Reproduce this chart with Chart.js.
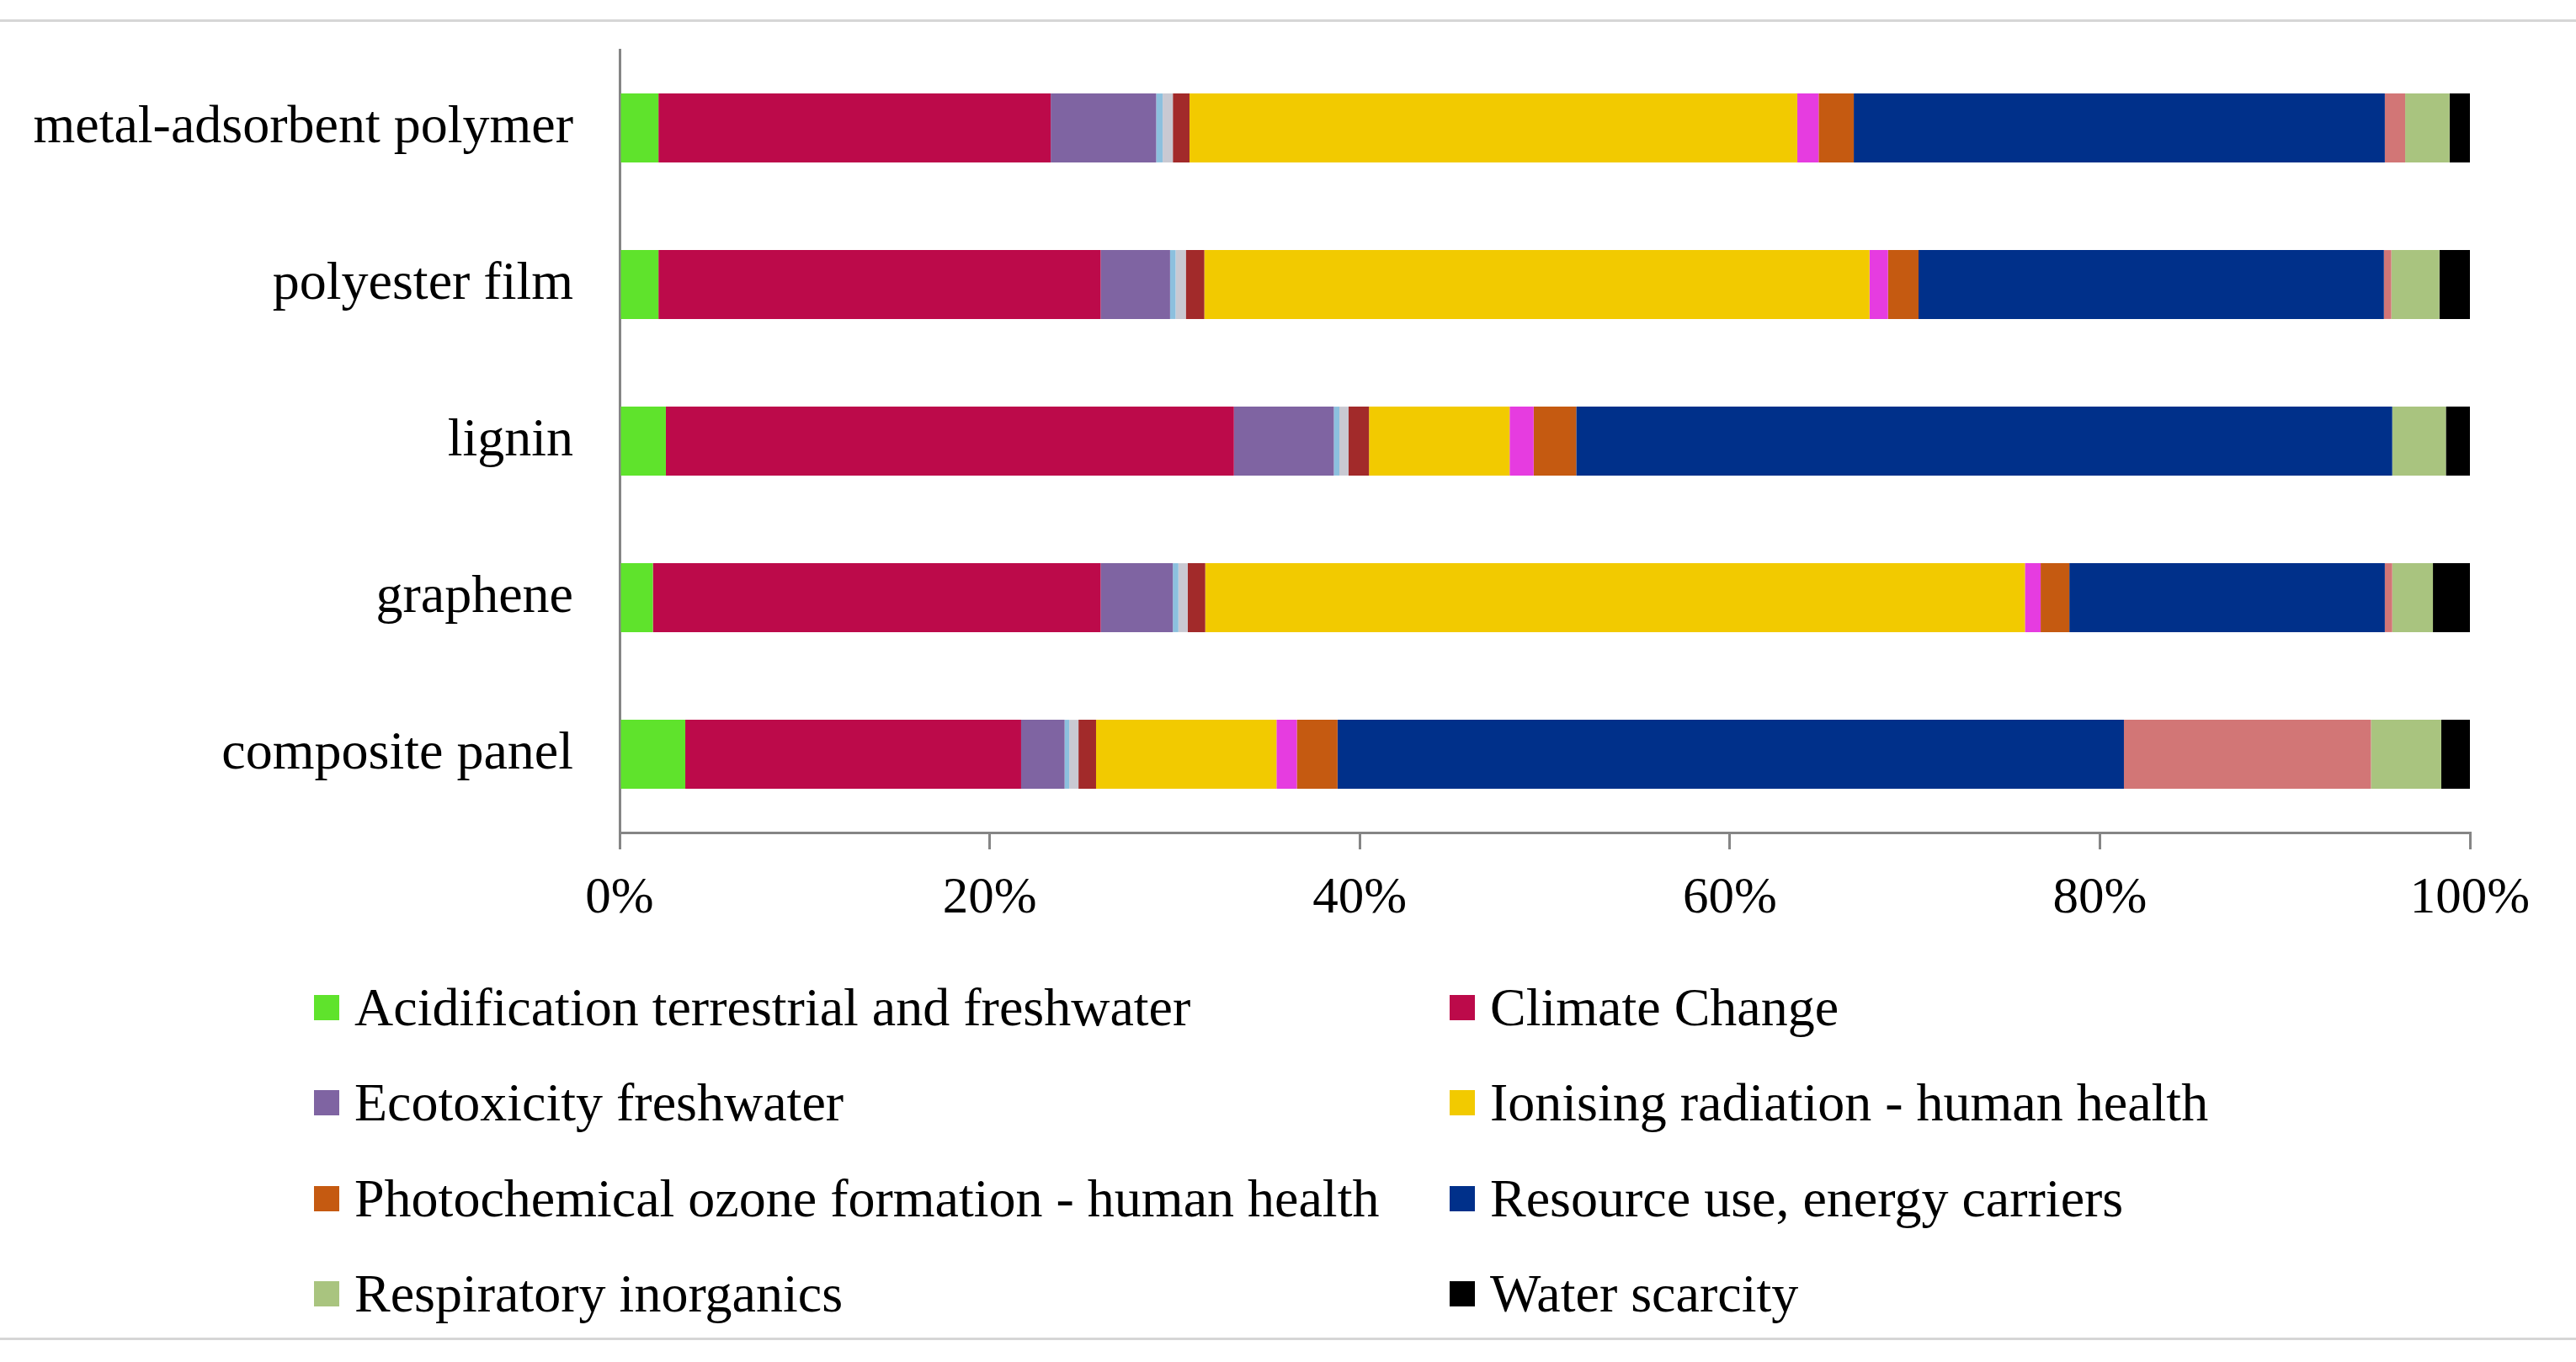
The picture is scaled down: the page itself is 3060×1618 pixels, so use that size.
<!DOCTYPE html>
<html>
<head>
<meta charset="utf-8">
<script src="https://cdn.jsdelivr.net/npm/chart.js@4.4.1/dist/chart.umd.min.js"></script>
<style>
  html, body { margin: 0; padding: 0; background: #fff; }
  #wrap { position: relative; width: 3060px; height: 1618px; overflow: hidden; }
  #chart { position: absolute; left: 0; top: 0; }
  .rule { position: absolute; left: 0; width: 3060px; height: 3px; background: #d6d6d6; }
  .item { position: absolute; height: 80px; display: flex; align-items: center;
          font-family: "Liberation Serif", "Times New Roman", serif; font-size: 64px; color: #000; white-space: nowrap; }
  .box { width: 30px; height: 30px; margin-right: 18px; flex: none; }
</style>
</head>
<body>
<div id="wrap">
  <div class="rule" style="top:23px"></div>
  <canvas id="chart" width="3060" height="1618"></canvas>
  <div id="legend"></div>
  <div class="rule" style="top:1589px"></div>
</div>
<script>
// categories, top to bottom
const products = ['metal-adsorbent polymer', 'polyester film', 'lignin', 'graphene', 'composite panel'];

// share of each impact category (%)
const acidification = [2.1, 2.1, 2.5, 1.8, 3.55];
const climateChange = [21.2, 23.9, 30.7, 24.2, 18.15];
const ecotoxicity   = [5.7, 3.75, 5.4, 3.9, 2.35];
const eutroFresh    = [0.35, 0.3, 0.3, 0.3, 0.25];
const eutroMarine   = [0.55, 0.55, 0.5, 0.5, 0.5];
const eutroTerr     = [0.9, 1.0, 1.1, 0.95, 0.95];
const ionising      = [32.85, 35.95, 7.6, 44.3, 9.75];
const ozoneDepl     = [1.15, 1.0, 1.3, 0.85, 1.1];
const photochem     = [1.9, 1.65, 2.3, 1.55, 2.2];
const resEnergy     = [28.7, 25.15, 44.1, 17.05, 42.5];
const resMinerals   = [1.1, 0.4, 0.0, 0.4, 13.35];
const respiratory   = [2.4, 2.6, 2.9, 2.2, 3.8];
const waterScarcity = [1.1, 1.65, 1.3, 2.0, 1.55];

const xTicks = [0, 20, 40, 60, 80, 100];

// series in stacking order; only some of them are in the legend
const series = [
    { label: 'Acidification terrestrial and freshwater', data: acidification, color: '#5fe32c', legend: true },
    { label: 'Climate Change', data: climateChange, color: '#bc0a4a', legend: true },
    { label: 'Ecotoxicity freshwater', data: ecotoxicity, color: '#7f64a2', legend: true },
    { label: 'Eutrophication freshwater', data: eutroFresh, color: '#8cc0de', legend: false },
    { label: 'Eutrophication marine', data: eutroMarine, color: '#c9c9d2', legend: false },
    { label: 'Eutrophication terrestrial', data: eutroTerr, color: '#a22a2a', legend: false },
    { label: 'Ionising radiation - human health', data: ionising, color: '#f2ca00', legend: true },
    { label: 'Ozone depletion', data: ozoneDepl, color: '#e63ce0', legend: false },
    { label: 'Photochemical ozone formation - human health', data: photochem, color: '#c55a11', legend: true },
    { label: 'Resource use, energy carriers', data: resEnergy, color: '#00308a', legend: true },
    { label: 'Resource use, minerals and metals', data: resMinerals, color: '#d27676', legend: false },
    { label: 'Respiratory inorganics', data: respiratory, color: '#a9c47f', legend: true },
    { label: 'Water scarcity', data: waterScarcity, color: '#000000', legend: true }
];

const serif = '"Liberation Serif", "Times New Roman", serif';

new Chart(document.getElementById('chart'), {
    type: 'bar',
    data: {
        labels: products,
        datasets: series.map(s => ({
            label: s.label,
            data: s.data,
            backgroundColor: s.color,
            borderWidth: 0,
            barPercentage: 0.44,
            categoryPercentage: 1.0
        }))
    },
    options: {
        indexAxis: 'y',
        responsive: false,
        animation: false,
        devicePixelRatio: 1,
        layout: { padding: { left: 0, top: 59, right: 126, bottom: 509 } },
        scales: {
            x: {
                stacked: true,
                min: 0,
                max: 100,
                afterBuildTicks: function(scale) {
                    scale.ticks = xTicks.map(v => ({ value: v }));
                },
                afterFit: function(scale) { scale.height = 120; },
                grid: { drawOnChartArea: false, drawTicks: true, tickLength: 20, color: '#858585', lineWidth: 3 },
                border: { display: true, color: '#858585', width: 3 },
                ticks: {
                    padding: 22,
                    color: '#000',
                    font: { family: serif, size: 61 },
                    callback: function(value) { return value + '%'; }
                }
            },
            y: {
                stacked: true,
                afterFit: function(scale) {
                    scale.width = 736;
                    scale.paddingTop = 0;
                    scale.paddingBottom = 0;
                },
                grid: { display: false, drawTicks: false },
                border: { display: true, color: '#858585', width: 3 },
                ticks: {
                    padding: 55,
                    color: '#000',
                    font: { family: serif, size: 64 }
                }
            }
        },
        plugins: {
            legend: { display: false },
            tooltip: { enabled: false }
        }
    }
});

// legend: two columns, four rows
const legendDiv = document.getElementById('legend');
const colLeft = [373, 1722];
const rowMid = [1197, 1310, 1424, 1537];
series.filter(s => s.legend).forEach((s, i) => {
    const item = document.createElement('div');
    item.className = 'item';
    item.style.left = colLeft[i % 2] + 'px';
    item.style.top = (rowMid[Math.floor(i / 2)] - 40) + 'px';
    const box = document.createElement('span');
    box.className = 'box';
    box.style.background = s.color;
    const txt = document.createElement('span');
    txt.textContent = s.label;
    item.appendChild(box);
    item.appendChild(txt);
    legendDiv.appendChild(item);
});
</script>
</body>
</html>
